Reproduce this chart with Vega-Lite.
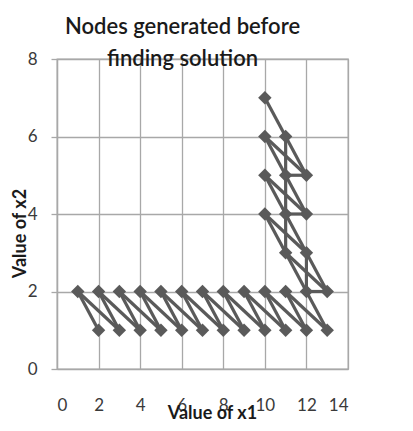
{
  "$schema": "https://vega.github.io/schema/vega-lite/v6.json",
  "width": 291,
  "height": 310,
  "autosize": "none",
  "padding": {"left": 57, "top": 59, "right": 65, "bottom": 62},
  "background": "white",
  "title": {
    "text": ["Nodes generated before", "finding solution"],
    "anchor": "middle",
    "dx": -20,
    "offset": -21,
    "fontSize": 22,
    "lineHeight": 32,
    "font": "Lato",
    "fontWeight": 600,
    "color": "#1a1a1a"
  },
  "datasets": {
    "nodes": [
      {"x1": 1, "x2": 2}, {"x1": 2, "x2": 2}, {"x1": 3, "x2": 2}, {"x1": 4, "x2": 2}, {"x1": 5, "x2": 2},
      {"x1": 6, "x2": 2}, {"x1": 7, "x2": 2}, {"x1": 8, "x2": 2}, {"x1": 9, "x2": 2}, {"x1": 10, "x2": 2},
      {"x1": 11, "x2": 2}, {"x1": 12, "x2": 2}, {"x1": 13, "x2": 2},
      {"x1": 2, "x2": 1}, {"x1": 3, "x2": 1}, {"x1": 4, "x2": 1}, {"x1": 5, "x2": 1}, {"x1": 6, "x2": 1},
      {"x1": 7, "x2": 1}, {"x1": 8, "x2": 1}, {"x1": 9, "x2": 1}, {"x1": 10, "x2": 1}, {"x1": 11, "x2": 1},
      {"x1": 12, "x2": 1}, {"x1": 13, "x2": 1},
      {"x1": 10, "x2": 7}, {"x1": 10, "x2": 6}, {"x1": 10, "x2": 5}, {"x1": 10, "x2": 4},
      {"x1": 11, "x2": 6}, {"x1": 11, "x2": 5}, {"x1": 11, "x2": 4}, {"x1": 11, "x2": 3},
      {"x1": 12, "x2": 5}, {"x1": 12, "x2": 4}, {"x1": 12, "x2": 3}
    ],
    "edges": [
      {"fx": 1, "fy": 2, "tx": 2, "ty": 1}, {"fx": 1, "fy": 2, "tx": 3, "ty": 1},
      {"fx": 2, "fy": 2, "tx": 3, "ty": 1}, {"fx": 2, "fy": 2, "tx": 4, "ty": 1},
      {"fx": 3, "fy": 2, "tx": 4, "ty": 1}, {"fx": 3, "fy": 2, "tx": 5, "ty": 1},
      {"fx": 4, "fy": 2, "tx": 5, "ty": 1}, {"fx": 4, "fy": 2, "tx": 6, "ty": 1},
      {"fx": 5, "fy": 2, "tx": 6, "ty": 1}, {"fx": 5, "fy": 2, "tx": 7, "ty": 1},
      {"fx": 6, "fy": 2, "tx": 7, "ty": 1}, {"fx": 6, "fy": 2, "tx": 8, "ty": 1},
      {"fx": 7, "fy": 2, "tx": 8, "ty": 1}, {"fx": 7, "fy": 2, "tx": 9, "ty": 1},
      {"fx": 8, "fy": 2, "tx": 9, "ty": 1}, {"fx": 8, "fy": 2, "tx": 10, "ty": 1},
      {"fx": 9, "fy": 2, "tx": 10, "ty": 1}, {"fx": 9, "fy": 2, "tx": 11, "ty": 1},
      {"fx": 10, "fy": 2, "tx": 11, "ty": 1}, {"fx": 10, "fy": 2, "tx": 12, "ty": 1},
      {"fx": 11, "fy": 2, "tx": 12, "ty": 1}, {"fx": 11, "fy": 2, "tx": 13, "ty": 1},
      {"fx": 12, "fy": 2, "tx": 13, "ty": 1},
      {"fx": 10, "fy": 7, "tx": 11, "ty": 6},
      {"fx": 10, "fy": 6, "tx": 11, "ty": 5}, {"fx": 10, "fy": 6, "tx": 12, "ty": 5},
      {"fx": 11, "fy": 6, "tx": 11, "ty": 5}, {"fx": 11, "fy": 6, "tx": 12, "ty": 5},
      {"fx": 11, "fy": 5, "tx": 12, "ty": 5},
      {"fx": 10, "fy": 5, "tx": 11, "ty": 4}, {"fx": 10, "fy": 5, "tx": 12, "ty": 4},
      {"fx": 11, "fy": 5, "tx": 11, "ty": 4}, {"fx": 11, "fy": 5, "tx": 12, "ty": 4},
      {"fx": 11, "fy": 4, "tx": 12, "ty": 4},
      {"fx": 10, "fy": 4, "tx": 11, "ty": 3}, {"fx": 10, "fy": 4, "tx": 12, "ty": 3},
      {"fx": 11, "fy": 4, "tx": 11, "ty": 3}, {"fx": 11, "fy": 4, "tx": 12, "ty": 3},
      {"fx": 11, "fy": 3, "tx": 12, "ty": 2}, {"fx": 11, "fy": 3, "tx": 13, "ty": 2},
      {"fx": 12, "fy": 3, "tx": 12, "ty": 2}, {"fx": 12, "fy": 3, "tx": 13, "ty": 2},
      {"fx": 12, "fy": 2, "tx": 13, "ty": 2}
    ]
  },
  "layer": [
    {
      "data": {"name": "edges"},
      "mark": {"type": "rule", "color": "#5a5a5a", "strokeWidth": 3.2},
      "encoding": {
        "x": {"field": "fx", "type": "quantitative"},
        "y": {"field": "fy", "type": "quantitative"},
        "x2": {"field": "tx"},
        "y2": {"field": "ty"}
      }
    },
    {
      "data": {"name": "nodes"},
      "mark": {"type": "point", "shape": "diamond", "filled": true, "color": "#5a5a5a", "opacity": 1, "size": 180},
      "encoding": {
        "x": {
          "field": "x1", "type": "quantitative",
          "scale": {"domain": [0, 14], "nice": false, "zero": false},
          "axis": {
            "values": [0, 2, 4, 6, 8, 10, 12, 14],
            "title": "Value of x1",
            "ticks": false,
            "domain": false,
            "labelPadding": 28,
            "labelFontSize": 17,
            "labelFont": "Lato",
            "labelColor": "#3a3a3a",
            "titleFont": "Lato",
            "titleFontSize": 18,
            "titleFontWeight": "bold",
            "titleColor": "#1a1a1a",
            "titleX": 155,
            "titleY": 44,
            "titleBaseline": "middle",
            "titleAlign": "center",
            "gridColor": "#a8a8a8",
            "gridWidth": 1.3,
            "gridOpacity": 1
          }
        },
        "y": {
          "field": "x2", "type": "quantitative",
          "scale": {"domain": [0, 8], "nice": false},
          "axis": {
            "values": [0, 2, 4, 6, 8],
            "title": "Value of x2",
            "ticks": true,
            "tickSize": 6,
            "tickColor": "#a8a8a8",
            "tickWidth": 1.3,
            "domain": true,
            "domainColor": "#a8a8a8",
            "domainWidth": 1.3,
            "labelPadding": 14,
            "labelFontSize": 17,
            "labelFont": "Lato",
            "labelColor": "#3a3a3a",
            "titleFont": "Lato",
            "titleFontSize": 18,
            "titleFontWeight": "bold",
            "titleColor": "#1a1a1a",
            "titleAngle": -90,
            "titleX": -37,
            "titleY": 174,
            "titleAlign": "center",
            "titleBaseline": "middle",
            "gridColor": "#a8a8a8",
            "gridWidth": 1.3,
            "gridOpacity": 1
          }
        }
      }
    }
  ],
  "config": {
    "view": {"stroke": "#a8a8a8", "strokeWidth": 1.3}
  }
}
